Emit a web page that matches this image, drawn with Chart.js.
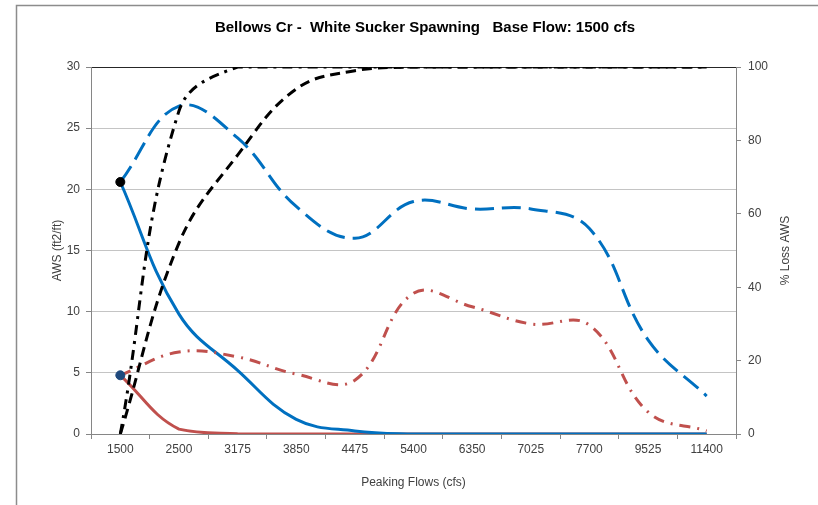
<!DOCTYPE html>
<html lang="en">
<head>
    <meta charset="UTF-8">
    <title>Bellows Cr - White Sucker Spawning</title>
    <style>
        body {
            margin: 0;
            padding: 0;
            background-color: #fff;
        }

        .chart-box {
            position: relative;
            width: 818px;
            height: 505px;
        }
    </style>
</head>
<body>
    <div class="chart-box">
        <canvas id="awsChart"></canvas>
    </div>

    <script src="https://cdn.jsdelivr.net/npm/chart.js"></script>
    <script>
        // Peaking flow categories (cfs)
        const flows = ['1500', '2500', '3175', '3850', '4475', '5400', '6350', '7025', '7700', '9525', '11400'];

        // AWS (ft2/ft), left axis
        const awsPeak = [20.6, 9.8, 5.2, 1.2, 0.25, 0, 0, 0, 0, 0, 0];
        const awsBase = [20.6, 26.8, 24.2, 18.6, 16.0, 19.0, 18.4, 18.4, 16.8, 7.7, 3.1];
        const awsPeakRed = [4.8, 0.4, 0.03, 0, 0, 0, 0, 0, 0, 0, 0];
        const awsBaseRed = [4.8, 6.7, 6.3, 4.9, 4.4, 11.5, 10.4, 9.0, 8.9, 1.8, 0.25];

        // % Loss AWS, right axis
        const lossDashed = [0, 52, 76, 94, 99, 100, 100, 100, 100, 100, 100];
        const lossDashDot = [0, 88, 100, 100, 100, 100, 100, 100, 100, 100, 100];

        // Base flow markers (only at 1500)
        const baseMarkBlue = [20.6, null, null, null, null, null, null, null, null, null, null];
        const baseMarkRed = [4.8, null, null, null, null, null, null, null, null, null, null];

        const titleText = 'Bellows Cr -  White Sucker Spawning   Base Flow: 1500 cfs';
        const fontFamily = '"Liberation Sans", Arial, sans-serif';

        // draws the outer frame, the title and the right axis title
        const extras = {
            id: 'extras',
            beforeDraw(chart) {
                const ctx = chart.ctx;
                ctx.save();
                ctx.strokeStyle = '#8c8c8c';
                ctx.lineWidth = 1.5;
                ctx.beginPath();
                ctx.moveTo(16.5, 505);
                ctx.lineTo(16.5, 5.5);
                ctx.lineTo(818, 5.5);
                ctx.stroke();
                ctx.restore();
            },
            afterDraw(chart) {
                const ctx = chart.ctx;
                ctx.save();
                ctx.fillStyle = '#000';
                ctx.font = 'bold 15px ' + fontFamily;
                ctx.textAlign = 'center';
                ctx.textBaseline = 'middle';
                ctx.fillText(titleText, 425, 28);

                ctx.fillStyle = '#404040';
                ctx.font = '12px ' + fontFamily;
                ctx.translate(786, (chart.chartArea.top + chart.chartArea.bottom) / 2);
                ctx.rotate(-Math.PI / 2);
                ctx.fillText('% Loss AWS', 0, 0);
                ctx.restore();
            }
        };

        const lineBase = {
            pointRadius: 0,
            borderWidth: 3,
            tension: 0.4,
            fill: false
        };

        const ctx = document.getElementById('awsChart').getContext('2d');
        new Chart(ctx, {
            type: 'line',
            data: {
                labels: flows,
                datasets: [
                    { ...lineBase, data: awsPeak, borderColor: '#0070C0', yAxisID: 'y', order: 6 },
                    { ...lineBase, data: awsBase, borderColor: '#0070C0', borderDash: [19, 8], yAxisID: 'y', order: 5 },
                    { ...lineBase, data: awsPeakRed, borderColor: '#C0504D', yAxisID: 'y', order: 7 },
                    { ...lineBase, data: awsBaseRed, borderColor: '#C0504D', borderDash: [11, 7, 2, 7], yAxisID: 'y', order: 4 },
                    { ...lineBase, data: lossDashed, borderColor: '#000', borderDash: [10, 6], yAxisID: 'y1', order: 3 },
                    { ...lineBase, data: lossDashDot, borderColor: '#000', borderDash: [10, 6, 3, 6], yAxisID: 'y1', order: 2 },
                    { data: baseMarkBlue, showLine: false, pointRadius: 4.5, pointBackgroundColor: '#000', pointBorderColor: '#000', yAxisID: 'y', order: 1 },
                    { data: baseMarkRed, showLine: false, pointRadius: 4.5, pointBackgroundColor: '#1F497D', pointBorderColor: '#1F497D', yAxisID: 'y', order: 0 }
                ]
            },
            options: {
                responsive: true,
                maintainAspectRatio: false,
                animation: false,
                layout: {
                    padding: { top: 67, left: 0, right: 0, bottom: 0 }
                },
                plugins: {
                    legend: { display: false },
                    title: { display: false },
                    tooltip: { enabled: false }
                },
                scales: {
                    x: {
                        offset: true,
                        afterFit: (scale) => { scale.height = 71; },
                        grid: {
                            offset: true,
                            drawOnChartArea: false,
                            tickLength: 5,
                            color: '#868686'
                        },
                        border: { color: '#868686' },
                        ticks: {
                            color: '#404040',
                            padding: 3,
                            maxRotation: 0,
                            autoSkip: false,
                            font: { family: fontFamily, size: 12 }
                        },
                        title: {
                            display: true,
                            text: 'Peaking Flows (cfs)',
                            color: '#404040',
                            padding: { top: 0, bottom: 15 },
                            font: { family: fontFamily, size: 12 }
                        }
                    },
                    y: {
                        position: 'left',
                        min: 0,
                        max: 30,
                        afterFit: (scale) => { scale.width = 91; },
                        grid: {
                            tickLength: 5,
                            color: (c) => (c.tick && c.tick.value === 30 ? '#262626' : '#c4c4c4'),
                            tickColor: '#868686'
                        },
                        border: { color: '#868686' },
                        ticks: {
                            stepSize: 5,
                            color: '#404040',
                            padding: 6,
                            font: { family: fontFamily, size: 12 }
                        },
                        title: {
                            display: true,
                            text: 'AWS (ft2/ft)',
                            color: '#404040',
                            padding: { top: 50, bottom: 0 },
                            font: { family: fontFamily, size: 12 }
                        }
                    },
                    y1: {
                        position: 'right',
                        min: 0,
                        max: 100,
                        afterFit: (scale) => { scale.width = 82; },
                        grid: {
                            drawOnChartArea: false,
                            tickLength: 5,
                            color: '#868686'
                        },
                        border: { color: '#868686' },
                        ticks: {
                            stepSize: 20,
                            color: '#404040',
                            padding: 7,
                            font: { family: fontFamily, size: 12 }
                        }
                    }
                }
            },
            plugins: [extras]
        });
    </script>
</body>
</html>
